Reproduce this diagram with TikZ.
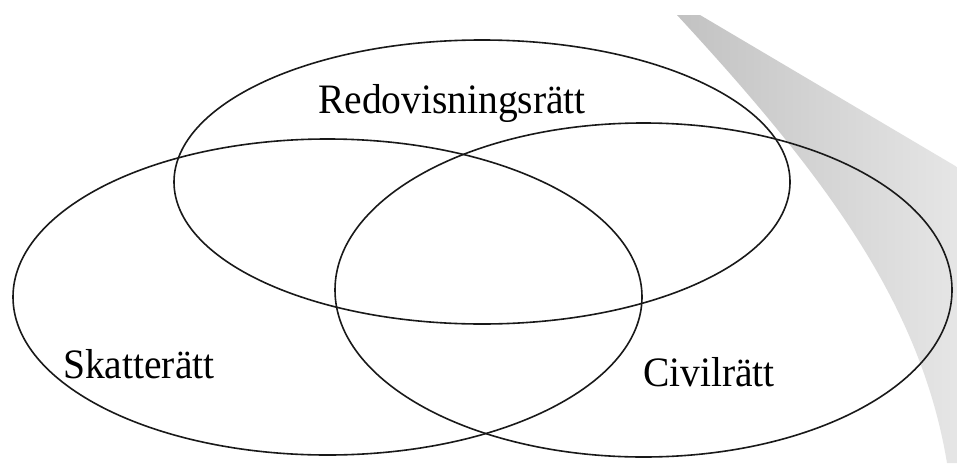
\documentclass[tikz,border=0pt]{standalone}
\usepackage{fontspec}
\setmainfont{Liberation Serif}
\begin{document}
\begin{tikzpicture}[x=1pt,y=-1pt,
  ring/.style={draw=black!90,line width=1.6pt},
  lbl/.style={anchor=base west,inner sep=0pt,yscale=1.06,font=\fontsize{39.5}{40}\selectfont}]
\useasboundingbox (0,0) rectangle (957,463);
\fill[white] (0,0) rectangle (957,463);
% grey swoosh
\shade[left color=black!24,right color=black!10,shading=axis]
  (677,15) .. controls (820,170) and (920,300) .. (947,463)
  -- (957,463) -- (957,167) -- (700,15) -- cycle;
% ellipses
\draw[ring] (482,182) ellipse [x radius=308, y radius=142];
\draw[ring] (327.5,297) ellipse [x radius=314.5, y radius=158];
\draw[ring] (643.5,290) ellipse [x radius=308.5, y radius=167];
% labels
\node[lbl] (redo) at (318,113) {Redovisningsrätt};
\node[lbl] (skatt) at (63,378) {Skatterätt};
\node[lbl] (civil) at (643,386) {Civilrätt};
\end{tikzpicture}
\end{document}
